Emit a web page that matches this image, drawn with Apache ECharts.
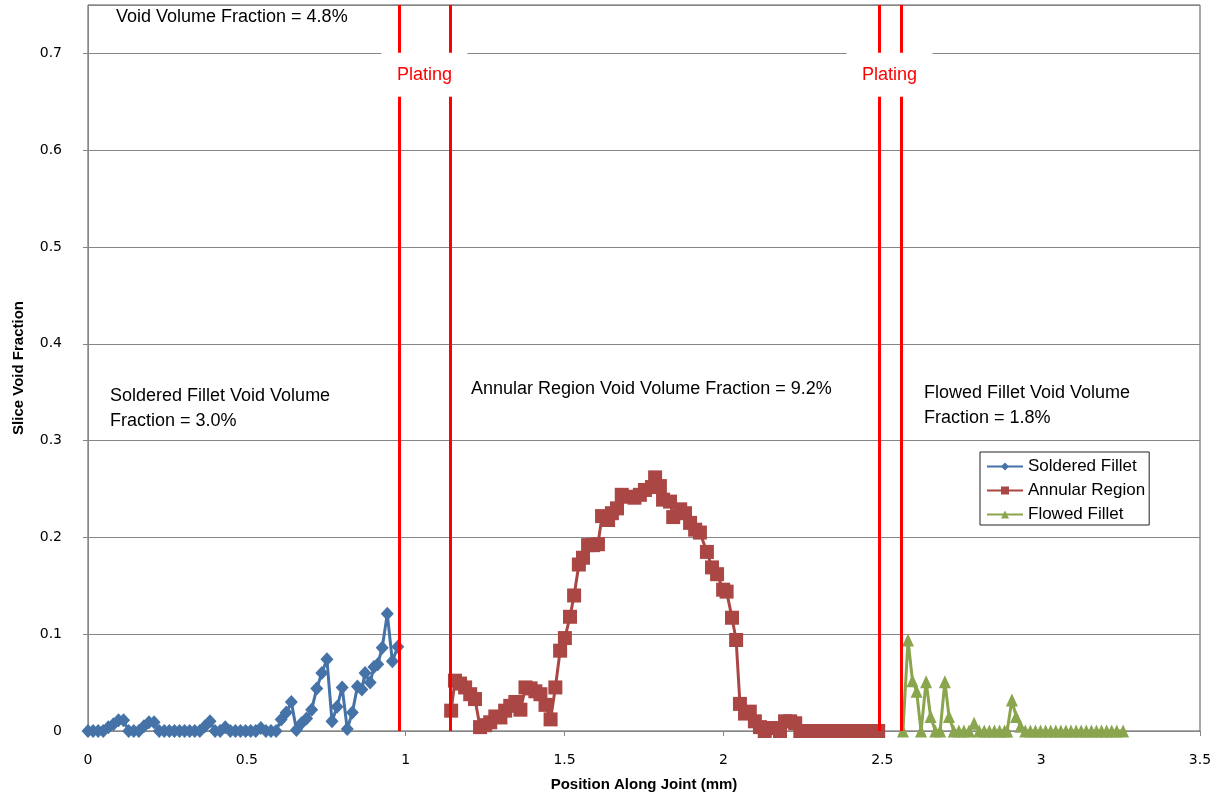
<!DOCTYPE html>
<html>
<head>
<meta charset="utf-8">
<style>
html,body{margin:0;padding:0;background:#fff;}
#chart{width:1222px;height:799px;}
</style>
<script src="https://cdn.jsdelivr.net/npm/echarts@6/dist/echarts.min.js"></script>
</head>
<body>
<div id="chart"></div>
<script>
const seriesNames = ['Soldered Fillet', 'Annular Region', 'Flowed Fillet'];

const solderedX = [0,0.016,0.032,0.048,0.064,0.08,0.096,0.112,0.128,0.144,0.16,0.176,0.192,0.208,0.224,0.24,0.256,0.272,0.288,0.304,0.32,0.336,0.352,0.368,0.384,0.4,0.416,0.432,0.448,0.464,0.48,0.496,0.512,0.528,0.544,0.56,0.576,0.592,0.608,0.624,0.64,0.656,0.672,0.688,0.704,0.72,0.736,0.752,0.768,0.784,0.8,0.816,0.832,0.848,0.862,0.872,0.888,0.9,0.912,0.926,0.942,0.958,0.975];
const solderedY = [0,0,0,0,0.004,0.007,0.011,0.011,0,0,0,0.005,0.009,0.009,0,0,0,0,0,0,0,0,0,0.005,0.01,0,0,0.004,0,0,0,0,0,0,0.003,0,0,0,0.012,0.019,0.03,0.001,0.008,0.013,0.022,0.044,0.06,0.074,0.01,0.025,0.045,0.002,0.019,0.046,0.043,0.06,0.05,0.066,0.069,0.086,0.121,0.072,0.087];

const annularX = [1.143,1.155,1.171,1.187,1.203,1.218,1.234,1.25,1.266,1.282,1.298,1.313,1.329,1.345,1.361,1.377,1.393,1.408,1.424,1.44,1.456,1.471,1.486,1.501,1.517,1.53,1.545,1.558,1.574,1.59,1.605,1.618,1.637,1.649,1.665,1.68,1.7,1.72,1.737,1.753,1.775,1.785,1.8,1.81,1.832,1.842,1.864,1.879,1.895,1.911,1.926,1.948,1.964,1.98,1.999,2.01,2.027,2.04,2.052,2.068,2.083,2.099,2.115,2.13,2.146,2.162,2.178,2.194,2.21,2.226,2.242,2.258,2.273,2.289,2.305,2.321,2.337,2.352,2.368,2.384,2.4,2.416,2.431,2.447,2.463,2.479,2.487];
const annularY = [0.021,0.052,0.049,0.045,0.038,0.033,0.004,0.006,0.009,0.015,0.014,0.021,0.026,0.03,0.022,0.045,0.044,0.041,0.038,0.027,0.012,0.045,0.083,0.096,0.118,0.14,0.172,0.179,0.192,0.192,0.193,0.222,0.218,0.225,0.23,0.244,0.242,0.241,0.244,0.249,0.252,0.262,0.253,0.239,0.237,0.221,0.229,0.225,0.215,0.208,0.205,0.185,0.169,0.162,0.146,0.144,0.117,0.094,0.028,0.018,0.02,0.01,0.004,0,0.003,0.003,0,0.01,0.01,0.008,0,0,0,0,0,0,0,0,0,0,0,0,0,0,0,0,0];

const flowedX = [2.565,2.581,2.595,2.608,2.622,2.638,2.652,2.667,2.682,2.697,2.71,2.725,2.741,2.757,2.773,2.789,2.805,2.821,2.837,2.853,2.869,2.885,2.893,2.908,2.921,2.935,2.95,2.966,2.982,2.998,3.014,3.03,3.046,3.062,3.078,3.094,3.11,3.126,3.142,3.158,3.174,3.19,3.206,3.222,3.238,3.258];
const flowedY = [0,0.094,0.052,0.041,0,0.051,0.015,0,0,0.051,0.015,0,0,0,0,0.008,0,0,0,0,0,0,0,0.032,0.015,0.005,0,0,0,0,0,0,0,0,0,0,0,0,0,0,0,0,0,0,0,0];

const platingX = [0.979, 1.139, 2.487, 2.559];
const platingLabelX = [1.059, 2.523];
const platingLabelY = 0.678;

const xTicks = { min: 0, max: 3.5, interval: 0.5 };
const yTicks = { min: 0, max: 0.75, interval: 0.1 };

const annotations = [
  { text: 'Void Volume Fraction = 4.8%', left: 116, top: 5 },
  { text: 'Soldered Fillet Void Volume\nFraction = 3.0%', left: 110, top: 384 },
  { text: 'Annular Region Void Volume Fraction = 9.2%', left: 471, top: 377 },
  { text: 'Flowed Fillet Void Volume\nFraction = 1.8%', left: 924, top: 381 }
];

const zip = (xs, ys) => xs.map((x, i) => [x, ys[i]]);
const FONT = '"Liberation Sans", Arial, sans-serif';
const TICKFONT = '"DejaVu Sans", Verdana, sans-serif';

const chart = echarts.init(document.getElementById('chart'), null, { renderer: 'canvas' });
chart.setOption({
  animation: false,
  backgroundColor: '#fff',
  grid: { left: 88, right: 22, top: 5, bottom: 68, show: true, borderColor: '#555', borderWidth: 1, backgroundColor: 'transparent' },
  legend: {
    data: seriesNames,
    orient: 'vertical',
    left: 980, top: 452,
    padding: [6, 4, 2, 6],
    itemWidth: 36, itemHeight: 10, itemGap: 7,
    borderColor: '#222', borderWidth: 1, backgroundColor: '#fff',
    textStyle: { fontFamily: FONT, fontSize: 17, color: '#000' }
  },
  xAxis: {
    type: 'value', min: xTicks.min, max: xTicks.max, interval: xTicks.interval,
    name: 'Position Along Joint (mm)', nameLocation: 'middle', nameGap: 46,
    nameTextStyle: { fontFamily: FONT, fontWeight: 'bold', fontSize: 15, color: '#000' },
    axisLine: { show: true, onZero: false, lineStyle: { color: '#868686', width: 1 } },
    axisTick: { show: true, length: 5, lineStyle: { color: '#868686' } },
    axisLabel: { fontFamily: TICKFONT, fontSize: 14, color: '#000', margin: 22 },
    splitLine: { show: false }
  },
  yAxis: {
    type: 'value', min: yTicks.min, max: yTicks.max, interval: yTicks.interval,
    name: 'Slice Void Fraction', nameLocation: 'middle', nameGap: 62, nameRotate: 90,
    nameTextStyle: { fontFamily: FONT, fontWeight: 'bold', fontSize: 15, color: '#000' },
    axisLine: { show: true, lineStyle: { color: '#868686', width: 1 } },
    axisTick: { show: true, length: 5, lineStyle: { color: '#868686' } },
    axisLabel: { fontFamily: TICKFONT, fontSize: 14, color: '#000', margin: 26, showMaxLabel: false },
    splitLine: { show: true, lineStyle: { color: '#868686', width: 1 } }
  },
  series: [
    {
      name: seriesNames[0], type: 'line', z: 2,
      data: zip(solderedX, solderedY),
      symbol: 'diamond', symbolSize: [13, 14], showAllSymbol: true,
      itemStyle: { color: '#4572A7' }, lineStyle: { color: '#4572A7', width: 3 }
    },
    {
      name: seriesNames[1], type: 'line', z: 2,
      data: zip(annularX, annularY),
      symbol: 'rect', symbolSize: 14, showAllSymbol: true,
      itemStyle: { color: '#AA4643' }, lineStyle: { color: '#AA4643', width: 3 }
    },
    {
      name: seriesNames[2], type: 'line', z: 2,
      data: zip(flowedX, flowedY),
      symbol: 'triangle', symbolSize: [12, 13], showAllSymbol: true,
      itemStyle: { color: '#89A54E' }, lineStyle: { color: '#89A54E', width: 3 }
    },
    {
      name: 'plating-lines', type: 'line', z: 4, data: [],
      markLine: {
        silent: true, symbol: ['none', 'none'],
        lineStyle: { color: '#FF0000', width: 3, type: 'solid' },
        label: { show: false },
        emphasis: { disabled: true },
        data: platingX.map(x => ({ xAxis: x }))
      }
    }
  ]
});

const annotationGraphics = annotations.map(a => ({
  type: 'text', left: a.left, top: a.top, z: 20,
  style: { text: a.text, font: '18px ' + FONT, fill: '#000', lineHeight: 25 }
}));
const platingGraphics = [];
platingLabelX.forEach(x => {
  const p = chart.convertToPixel({ gridIndex: 0 }, [x, platingLabelY]);
  platingGraphics.push({
    type: 'rect', z: 30,
    shape: { x: p[0] - 43, y: p[1] - 22, width: 86, height: 44 },
    style: { fill: '#fff' }
  });
  platingGraphics.push({
    type: 'text', z: 31, x: p[0], y: p[1],
    style: { text: 'Plating', font: '18px ' + FONT, fill: '#FF0000', align: 'center', verticalAlign: 'middle' }
  });
});
chart.setOption({ graphic: annotationGraphics.concat(platingGraphics) });
</script>
</body>
</html>
